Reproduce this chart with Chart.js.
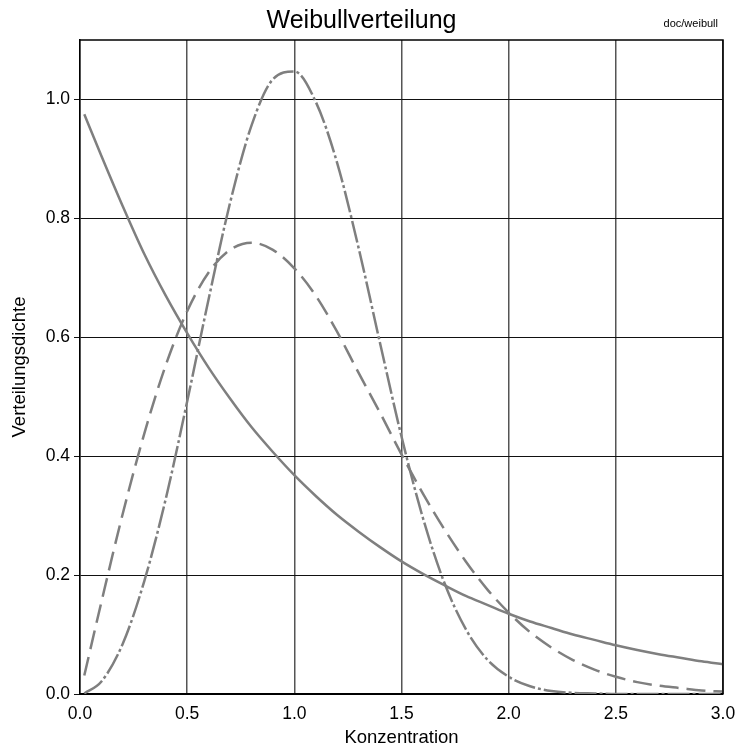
<!DOCTYPE html>
<html>
<head>
<meta charset="utf-8">
<title>Weibullverteilung</title>
<script src="https://cdn.jsdelivr.net/npm/chart.js@4"></script>
<style>
  html, body { margin: 0; padding: 0; background: #fff; }
  #wrap { width: 736px; height: 747px; }
</style>
</head>
<body>
<div id="wrap"><canvas id="weibullChart"></canvas></div>
<script>
    // Stützstellen (Konzentration)
    const konz = [
      0.02, 0.1, 0.2, 0.3, 0.4, 0.5, 0.6, 0.7, 0.8, 0.9, 1.0,
      1.1, 1.2, 1.3, 1.4, 1.5, 1.6, 1.7, 1.8, 1.9, 2.0,
      2.1, 2.2, 2.3, 2.4, 2.5, 2.6, 2.7, 2.8, 2.9, 3.0
    ];
    // Formparameter 1 (durchgezogen)
    const dichteK1 = [
      0.975, 0.905, 0.820, 0.740, 0.670, 0.607, 0.549, 0.497, 0.449, 0.407, 0.368,
      0.333, 0.301, 0.273, 0.247, 0.223, 0.202, 0.183, 0.165, 0.150, 0.135,
      0.122, 0.111, 0.100, 0.091, 0.082, 0.074, 0.067, 0.061, 0.055, 0.050
    ];
    // Formparameter 2 (gestrichelt)
    const dichteK2 = [
      0.031, 0.155, 0.304, 0.438, 0.553, 0.644, 0.709, 0.747, 0.759, 0.747, 0.716,
      0.670, 0.609, 0.540, 0.473, 0.403, 0.337, 0.277, 0.223, 0.176, 0.137,
      0.104, 0.078, 0.057, 0.041, 0.029, 0.020, 0.014, 0.010, 0.006, 0.004
    ];
    // Formparameter 3 (strichpunktiert)
    const dichteK3 = [
      0.001, 0.021, 0.085, 0.190, 0.328, 0.492, 0.664, 0.826, 0.956, 1.034, 1.047,
      0.996, 0.893, 0.750, 0.590, 0.433, 0.296, 0.187, 0.109, 0.058, 0.029,
      0.013, 0.005, 0.002, 0.001, 0.000, 0.000, 0.000, 0.000, 0.000, 0.000
    ];
    const xTicks = [0, 0.5, 1.0, 1.5, 2.0, 2.5, 3.0];
    const yTicks = [0, 0.2, 0.4, 0.6, 0.8, 1.0];

    const pts = ys => konz.map((x, i) => ({ x: x, y: ys[i] }));
    const kurve = {
      borderColor: '#7f7f7f',
      borderWidth: 2.5,
      pointRadius: 0,
      fill: false,
      cubicInterpolationMode: 'monotone'
    };

    // Rahmen oben/rechts und Kennung rechts oben
    const rahmen = {
      id: 'rahmen',
      afterDraw(chart) {
        const { ctx, chartArea: a } = chart;
        ctx.save();
        ctx.strokeStyle = '#000';
        ctx.lineWidth = 1.5;
        ctx.beginPath();
        ctx.moveTo(a.left, a.top);
        ctx.lineTo(a.right, a.top);
        ctx.lineTo(a.right, a.bottom);
        ctx.stroke();
        ctx.fillStyle = '#000';
        ctx.font = '11px "Liberation Sans", Arial, sans-serif';
        ctx.textAlign = 'right';
        ctx.textBaseline = 'alphabetic';
        ctx.fillText('doc/weibull', a.right - 5, 27);
        ctx.restore();
      }
    };

    Chart.defaults.font.family = '"Liberation Sans", Arial, sans-serif';
    Chart.defaults.color = '#000';

    new Chart(document.getElementById('weibullChart'), {
      type: 'line',
      data: {
        datasets: [
          Object.assign({ label: 'k = 1', data: pts(dichteK1) }, kurve),
          Object.assign({ label: 'k = 2', data: pts(dichteK2), borderDash: [19, 8] }, kurve),
          Object.assign({ label: 'k = 3', data: pts(dichteK3), borderDash: [22, 3, 3, 3] }, kurve)
        ]
      },
      options: {
        responsive: true,
        maintainAspectRatio: false,
        animation: false,
        layout: { padding: { top: 0, right: 13, bottom: 0, left: 0 } },
        plugins: {
          legend: { display: false },
          tooltip: { enabled: false },
          title: {
            display: true,
            text: 'Weibullverteilung',
            font: { size: 25, weight: 'normal' },
            padding: { top: 6, bottom: 4 }
          }
        },
        scales: {
          x: {
            type: 'linear',
            min: 0,
            max: 3,
            afterFit: s => { s.height = 53; s.paddingRight = 0; s.paddingLeft = 0; },
            afterBuildTicks: s => { s.ticks = xTicks.map(v => ({ value: v })); },
            ticks: {
              font: { size: 17.5 },
              padding: 10,
              callback: v => v.toFixed(1)
            },
            grid: { color: '#555', lineWidth: 1.5, drawTicks: false },
            border: { display: true, color: '#000', width: 2 },
            title: {
              display: true,
              text: 'Konzentration',
              font: { size: 18.5, lineHeight: 1 },
              padding: { top: 0, bottom: 0 }
            }
          },
          y: {
            min: 0,
            max: 1.1,
            afterFit: s => { s.width = 80; },
            afterBuildTicks: s => { s.ticks = yTicks.map(v => ({ value: v })); },
            ticks: {
              font: { size: 17.5 },
              padding: 4,
              callback: v => v.toFixed(1)
            },
            grid: { color: '#111', lineWidth: 1, tickLength: 6 },
            border: { display: true, color: '#000', width: 1.5 },
            title: {
              display: true,
              text: 'Verteilungsdichte',
              font: { size: 18.5 },
              padding: { top: 9, bottom: 0 }
            }
          }
        }
      },
      plugins: [rahmen]
    });
</script>
</body>
</html>
